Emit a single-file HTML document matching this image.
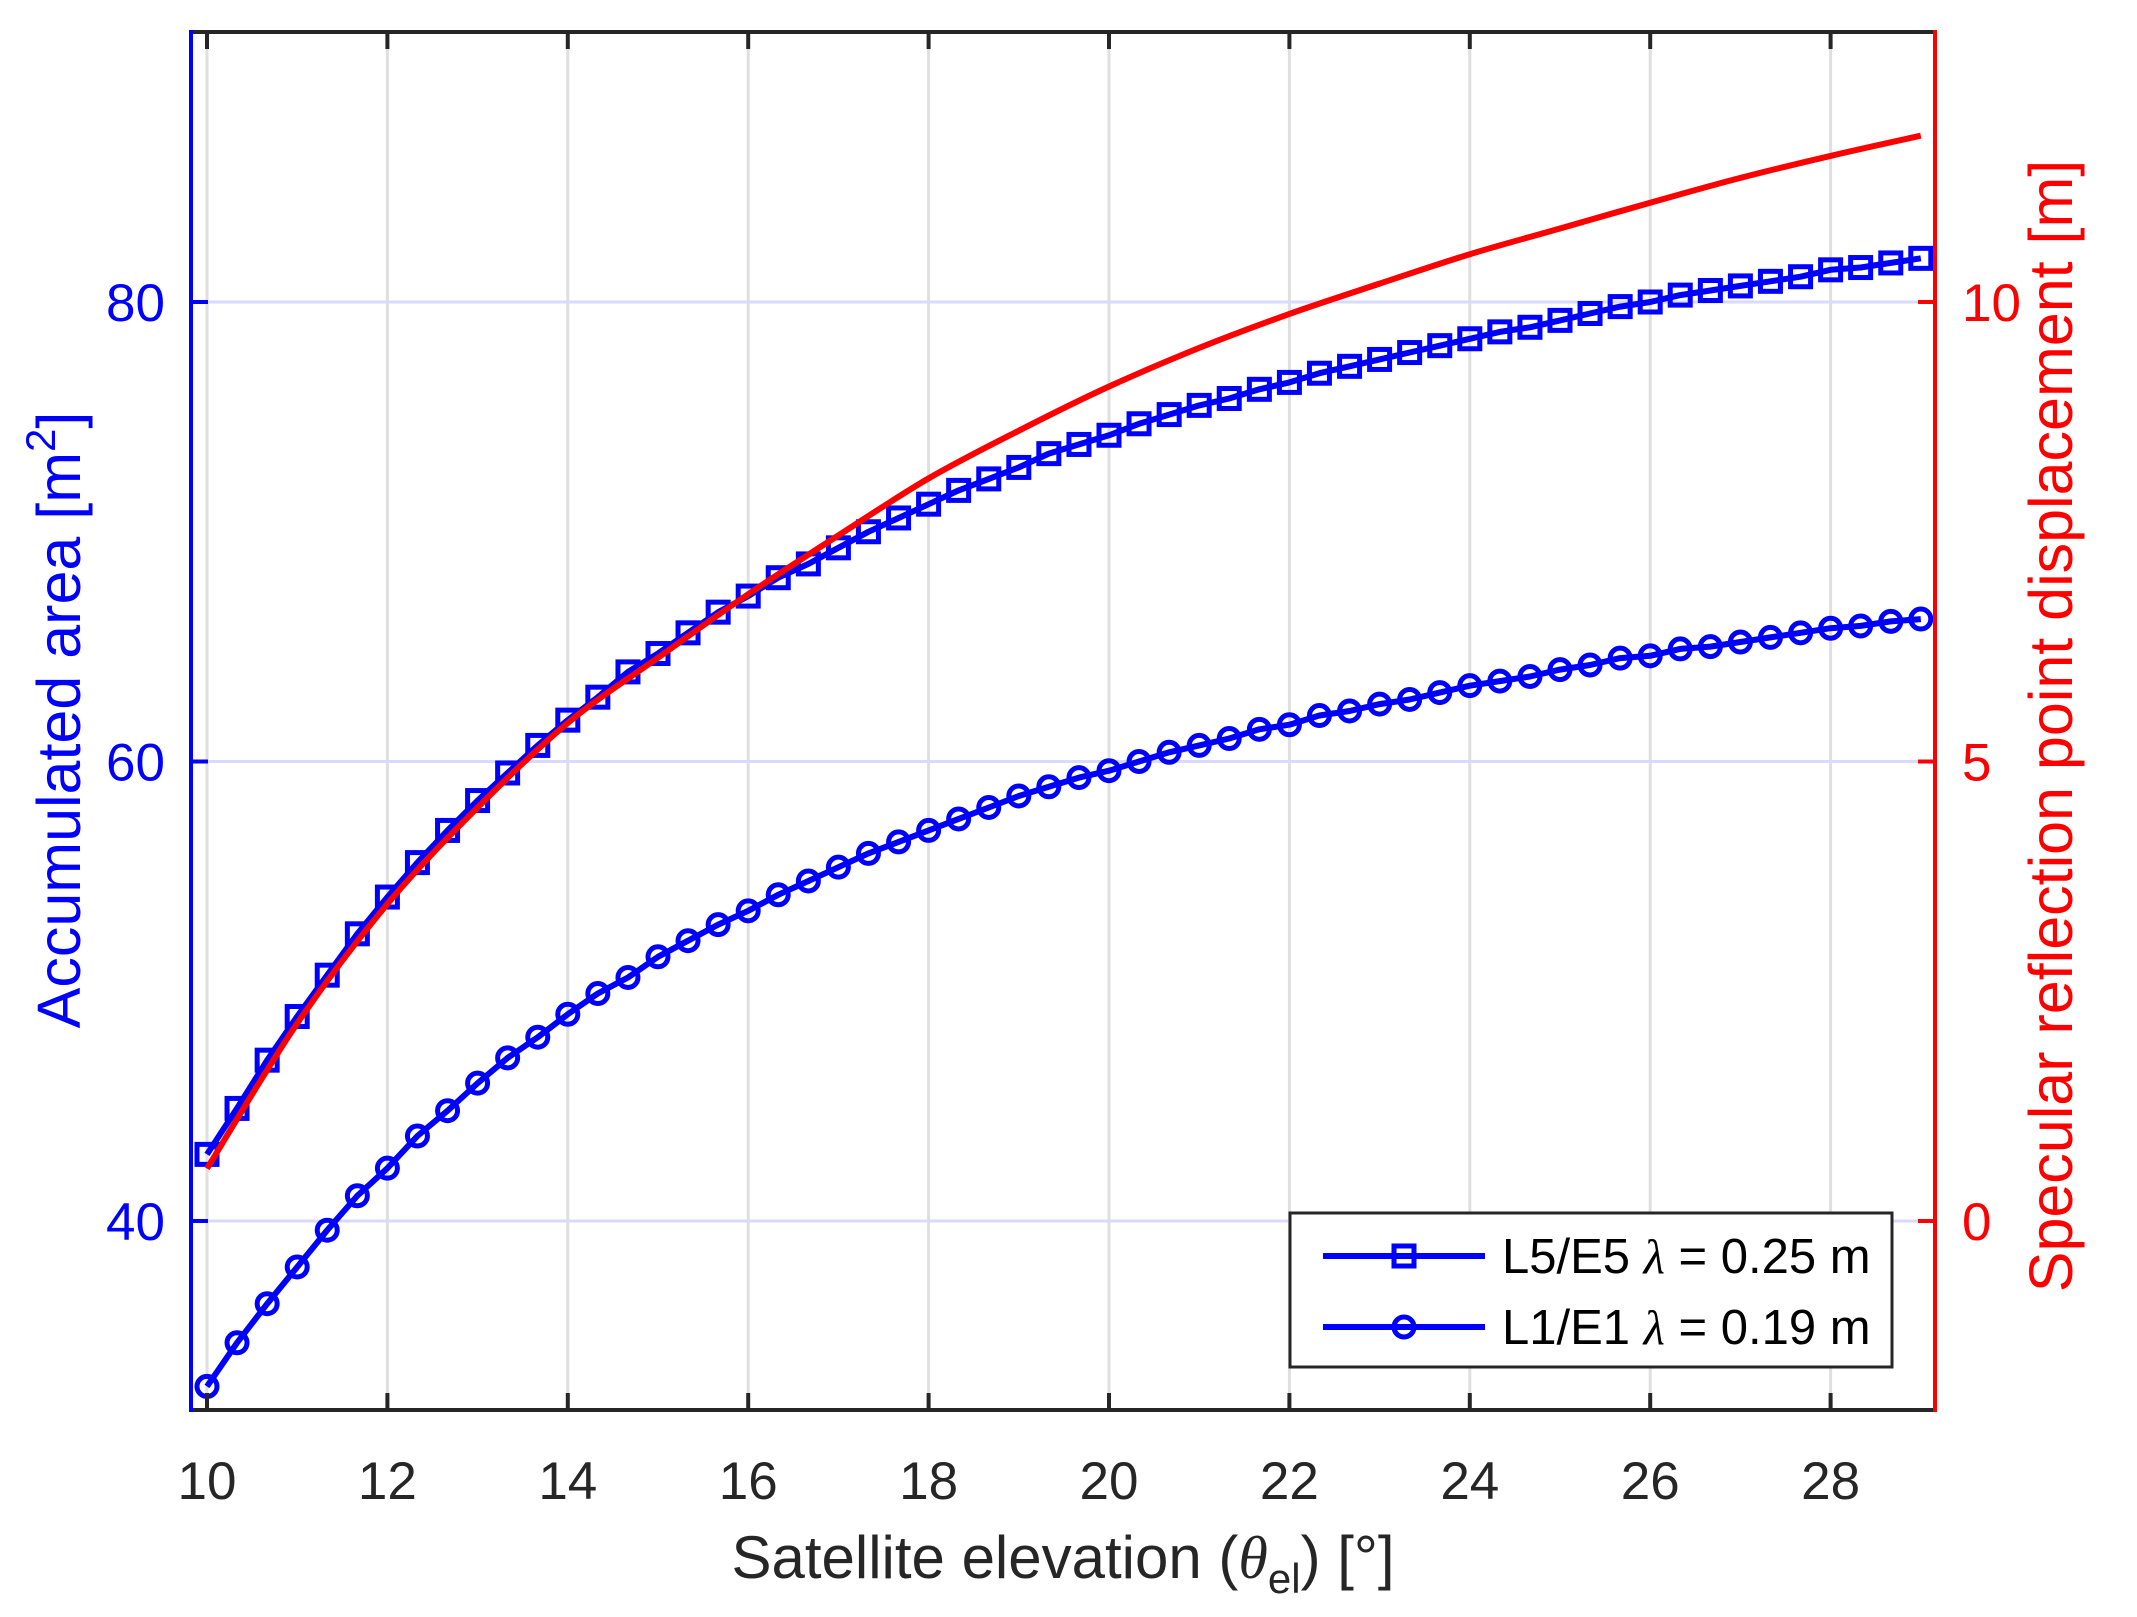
<!DOCTYPE html>
<html><head><meta charset="utf-8"><style>
html,body{margin:0;padding:0;background:#fff;}
svg{display:block;font-family:"Liberation Sans",Arial,sans-serif;}
</style></head><body>
<svg id="chart" width="2137" height="1617" viewBox="0 0 2137 1617" xmlns="http://www.w3.org/2000/svg">
<rect width="2137" height="1617" fill="#fff"/>
<g id="grid"></g>
<g id="series"></g>
<g id="axes"></g>
<text x="1063" y="1578" font-size="60" fill="#262626" text-anchor="middle">Satellite elevation (<tspan font-family="Liberation Serif" font-style="italic">θ</tspan><tspan font-size="42" dy="15">el</tspan><tspan dy="-15">) [°]</tspan></text>
<text transform="translate(80,720) rotate(-90)" font-size="61" fill="#0000ff" text-anchor="middle">Accumulated area [m<tspan font-size="42" dy="-25">2</tspan><tspan dy="25">]</tspan></text>
<text transform="translate(2072,726) rotate(-90)" font-size="61" fill="#ff0000" text-anchor="middle">Specular reflection point displacement [m]</text>
<g>
<rect x="1290" y="1213" width="602" height="154" fill="#fff" stroke="#262626" stroke-width="3"/>
<line x1="1323" y1="1256" x2="1485" y2="1256" stroke="#0000ff" stroke-width="6"/>
<rect x="1394" y="1246" width="20" height="20" fill="none" stroke="#0000ff" stroke-width="5"/>
<text x="1502" y="1273" font-size="49" fill="#000">L5/E5 <tspan font-family="Liberation Serif" font-style="italic">λ</tspan> = 0.25 m</text>
<line x1="1323" y1="1327" x2="1485" y2="1327" stroke="#0000ff" stroke-width="6"/>
<circle cx="1404" cy="1327" r="10" fill="none" stroke="#0000ff" stroke-width="5"/>
<text x="1502" y="1344" font-size="49" fill="#000">L1/E1 <tspan font-family="Liberation Serif" font-style="italic">λ</tspan> = 0.19 m</text>
</g>
</svg>
<script>
const elevation=[10,10.333,10.667,11,11.333,11.667,12,12.333,12.667,13,13.333,13.667,14,14.333,14.667,15,15.333,15.667,16,16.333,16.667,17,17.333,17.667,18,18.333,18.667,19,19.333,19.667,20,20.333,20.667,21,21.333,21.667,22,22.333,22.667,23,23.333,23.667,24,24.333,24.667,25,25.333,25.667,26,26.333,26.667,27,27.333,27.667,28,28.333,28.667,29];
const areaL5=[42.9,44.9,47.0,48.9,50.7,52.5,54.1,55.6,57.0,58.3,59.5,60.7,61.8,62.8,63.9,64.7,65.6,66.5,67.2,68.0,68.6,69.3,70.0,70.6,71.2,71.8,72.3,72.8,73.4,73.8,74.2,74.7,75.1,75.5,75.8,76.2,76.5,76.9,77.2,77.5,77.8,78.1,78.4,78.7,78.9,79.2,79.5,79.8,80.0,80.3,80.5,80.7,80.9,81.1,81.4,81.5,81.7,81.9];
const areaL1=[32.8,34.7,36.4,38.0,39.6,41.1,42.3,43.7,44.8,46.0,47.1,48.0,49.0,49.9,50.6,51.5,52.2,52.9,53.5,54.2,54.8,55.4,56.0,56.5,57.0,57.5,58.0,58.5,58.9,59.3,59.6,60.0,60.4,60.7,61.0,61.4,61.6,62.0,62.2,62.5,62.7,63.0,63.3,63.5,63.7,64.0,64.2,64.5,64.6,64.9,65.0,65.2,65.4,65.6,65.8,65.9,66.1,66.2];
const dispX=[10,11,12,13,14,15,16,17,18,19,20,21,22,23,24,25,26,27,28,29];
const displacement=[0.57,2.15,3.45,4.5,5.42,6.13,6.82,7.46,8.08,8.6,9.08,9.5,9.87,10.2,10.52,10.8,11.08,11.35,11.59,11.81];
const xTicks=[10,12,14,16,18,20,22,24,26,28];
const yLeftTicks=[40,60,80];
const yRightTicks=[0,5,10];

const PL=191,PR=1935,PT=32,PB=1410;
const X=v=>207+(v-10)*90.2;
const YL=v=>1221-(v-40)*22.975;
const YR=v=>1221-v*91.9;
const NS="http://www.w3.org/2000/svg";
function mk(tag,attrs,parent){const e=document.createElementNS(NS,tag);for(const k in attrs)e.setAttribute(k,attrs[k]);parent.appendChild(e);return e;}
const gridG=document.getElementById('grid'),seriesG=document.getElementById('series'),axesG=document.getElementById('axes');

xTicks.forEach(t=>{
  const g=mk('line',{x1:X(t),x2:X(t),y1:PT,y2:PB,stroke:'#dfdfdf','stroke-width':3},gridG);
  
  
});
yLeftTicks.forEach(t=>{
  const g=mk('line',{x1:PL,x2:PR,y1:YL(t),y2:YL(t),stroke:'#dadaff','stroke-width':3},gridG);
  
  
});

function drawPath(xs,ys,fx,fy,color,name,smooth){
  const P=xs.map((x,i)=>[fx(x),fy(ys[i])]);
  let d='M'+P[0][0].toFixed(1)+' '+P[0][1].toFixed(1);
  for(let i=1;i<P.length;i++){
    if(smooth){
      const p0=P[Math.max(i-2,0)],p1=P[i-1],p2=P[i],p3=P[Math.min(i+1,P.length-1)];
      const c1=[p1[0]+(p2[0]-p0[0])/6,p1[1]+(p2[1]-p0[1])/6];
      const c2=[p2[0]-(p3[0]-p1[0])/6,p2[1]-(p3[1]-p1[1])/6];
      d+=' C'+c1[0].toFixed(1)+' '+c1[1].toFixed(1)+' '+c2[0].toFixed(1)+' '+c2[1].toFixed(1)+' '+p2[0].toFixed(1)+' '+p2[1].toFixed(1);
    } else d+=' L'+P[i][0].toFixed(1)+' '+P[i][1].toFixed(1);
  }
  const p=mk('path',{d:d,fill:'none',stroke:color,'stroke-width':6,'stroke-linejoin':'round'},seriesG);
  
  
}
drawPath(elevation,areaL1,X,YL,'#0000ff','line-l1',false);
elevation.forEach((x,i)=>{
  const c=mk('circle',{cx:X(x),cy:YL(areaL1[i]),r:10,fill:'none',stroke:'#0000ff','stroke-width':5},seriesG);
  
  
});
drawPath(elevation,areaL5,X,YL,'#0000ff','line-l5',false);
elevation.forEach((x,i)=>{
  const s=mk('rect',{x:X(x)-10,y:YL(areaL5[i])-10,width:20,height:20,fill:'none',stroke:'#0000ff','stroke-width':5},seriesG);
  
  
});
drawPath(dispX,displacement,X,YR,'#ff0000','line-displacement',true);

const topAxis=mk('line',{x1:PL,x2:PR,y1:PT,y2:PT,stroke:'#262626','stroke-width':4},axesG);


const bottomAxis=mk('line',{x1:PL,x2:PR,y1:PB,y2:PB,stroke:'#262626','stroke-width':4},axesG);


const leftAxis=mk('line',{x1:PL,x2:PL,y1:PT-2,y2:PB+2,stroke:'#0000ff','stroke-width':4},axesG);


const rightAxis=mk('line',{x1:PR,x2:PR,y1:PT-2,y2:PB+2,stroke:'#ff0000','stroke-width':4},axesG);



xTicks.forEach(t=>{
  const a=mk('line',{x1:X(t),x2:X(t),y1:PB,y2:PB-17,stroke:'#262626','stroke-width':4},axesG);
  
  
  const b=mk('line',{x1:X(t),x2:X(t),y1:PT,y2:PT+17,stroke:'#262626','stroke-width':4},axesG);
  
  
  const tx=mk('text',{x:X(t),y:1499,'font-size':53,fill:'#262626','text-anchor':'middle'},axesG);
  tx.textContent=t;
  
  
});
yLeftTicks.forEach(t=>{
  const a=mk('line',{x1:PL,x2:PL+17,y1:YL(t),y2:YL(t),stroke:'#0000ff','stroke-width':4},axesG);
  
  
  const tx=mk('text',{x:165,y:YL(t)+19,'font-size':53,fill:'#0000ff','text-anchor':'end'},axesG);
  tx.textContent=t;
  
  
});
yRightTicks.forEach(t=>{
  const a=mk('line',{x1:PR,x2:PR-17,y1:YR(t),y2:YR(t),stroke:'#ff0000','stroke-width':4},axesG);
  
  
  const tx=mk('text',{x:1962,y:YR(t)+19,'font-size':53,fill:'#ff0000','text-anchor':'start'},axesG);
  tx.textContent=t;
  
  
});
</script>
</body></html>
